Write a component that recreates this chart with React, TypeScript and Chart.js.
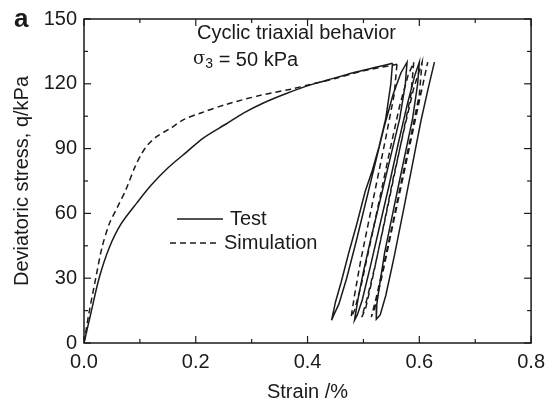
import React, { useEffect, useRef } from "react";
import { Chart, registerables } from "chart.js";

Chart.register(...registerables);

// ---- Data (strain in %, deviatoric stress q in kPa) ----
const testMonoStrain = [0, 0.0125, 0.027, 0.045, 0.066, 0.095, 0.12, 0.15, 0.184, 0.214, 0.255, 0.286, 0.32, 0.362, 0.405, 0.446, 0.48, 0.52, 0.552];
const testMonoStress = [0, 14, 30, 44, 55, 65, 73, 81, 88.5, 95, 101.5, 106.5, 111, 115.5, 119.5, 122.5, 125, 127.5, 129.5];

const testLoopStrain = [
  0.552, 0.549, 0.540, 0.528, 0.516, 0.503, 0.488, 0.474, 0.460, 0.450, 0.443,
  0.447, 0.456, 0.470, 0.487, 0.503, 0.520, 0.537, 0.553, 0.567, 0.578,
  0.575, 0.565, 0.552, 0.540, 0.527, 0.513, 0.500, 0.490, 0.484,
  0.489, 0.498, 0.512, 0.528, 0.545, 0.562, 0.578, 0.592, 0.600,
  0.597, 0.588, 0.575, 0.562, 0.550, 0.538, 0.529, 0.524, 0.523,
  0.530, 0.540, 0.555, 0.572, 0.588, 0.603, 0.616, 0.627,
];
const testLoopStress = [
  129.5, 120, 104, 91, 80, 70, 55, 42, 28, 19, 10.5,
  13, 18, 30, 47, 64, 82, 100, 115, 125, 130,
  120, 104, 90, 77, 63, 48, 33, 20, 10.5,
  13, 20, 35, 53, 72, 92, 110, 124, 130,
  120, 104, 88, 72, 57, 42, 27, 18, 11,
  13, 22, 40, 62, 83, 103, 118, 130,
];

const simMonoStrain = [0, 0.009, 0.021, 0.032, 0.045, 0.06, 0.075, 0.092, 0.104, 0.115, 0.13, 0.155, 0.179, 0.209, 0.255, 0.316, 0.37, 0.405, 0.45, 0.5, 0.56];
const simMonoStress = [0, 14, 30, 44, 55, 63, 71, 82, 88, 92, 95.5, 99.5, 103.5, 106.5, 110.5, 114.7, 117.5, 119.7, 122.5, 126, 129];

const simLoopStrain = [
  0.56, 0.555, 0.540, 0.525, 0.510, 0.495, 0.484, 0.478,
  0.484, 0.497, 0.512, 0.530, 0.548, 0.565, 0.580, 0.590,
  0.585, 0.570, 0.553, 0.537, 0.521, 0.506, 0.497,
  0.504, 0.518, 0.535, 0.553, 0.572, 0.590, 0.605,
  0.600, 0.585, 0.568, 0.552, 0.536, 0.522, 0.514,
  0.520, 0.535, 0.553, 0.572, 0.590, 0.605, 0.615,
];
const simLoopStress = [
  129, 115, 95, 76, 57, 38, 22, 12,
  15, 28, 46, 68, 90, 110, 124, 130,
  115, 96, 75, 55, 36, 20, 12,
  16, 32, 53, 76, 98, 118, 130,
  115, 96, 75, 55, 36, 20, 12,
  16, 33, 55, 78, 100, 118, 130,
];

const xTicks = [0, 0.2, 0.4, 0.6, 0.8];
const yTicks = [0, 30, 60, 90, 120, 150];

const FONT = "'Liberation Sans', Arial, sans-serif";
const INK = "#1a1a1a";

function pts(xs: number[], ys: number[]) {
  return xs.map((x, i) => ({ x, y: ys[i] }));
}

const decor = {
  id: "decor",
  afterDraw(chart: any) {
    const { ctx, chartArea: a, scales } = chart;
    const x = scales.x;
    const y = scales.y;
    ctx.save();
    ctx.strokeStyle = INK;
    ctx.lineWidth = 1.5;
    ctx.strokeRect(a.left, a.top, a.right - a.left, a.bottom - a.top);
    const line = (x1: number, y1: number, x2: number, y2: number) => {
      ctx.beginPath();
      ctx.moveTo(x1, y1);
      ctx.lineTo(x2, y2);
      ctx.stroke();
    };
    ctx.lineWidth = 1.2;
    for (let i = 0; i <= 8; i++) {
      const v = i / 10;
      const px = x.getPixelForValue(v);
      const major = xTicks.some((t) => Math.abs(t - v) < 1e-9);
      const len = major ? 7 : 4;
      line(px, a.bottom, px, a.bottom - len);
      line(px, a.top, px, a.top + len);
    }
    for (let v = 0; v <= 150; v += 15) {
      const py = y.getPixelForValue(v);
      const major = yTicks.includes(v);
      const len = major ? 7 : 4;
      line(a.left, py, a.left + len, py);
      line(a.right, py, a.right - len, py);
    }

    ctx.fillStyle = INK;
    ctx.textBaseline = "middle";
    ctx.font = `bold 26px ${FONT}`;
    ctx.textAlign = "left";
    ctx.fillText("a", 14, 20);

    ctx.font = `20px ${FONT}`;
    ctx.textAlign = "center";
    ctx.fillText("Strain /%", (a.left + a.right) / 2, 392);
    ctx.save();
    ctx.translate(22, (a.top + a.bottom) / 2);
    ctx.rotate(-Math.PI / 2);
    ctx.fillText("Deviatoric stress, q/kPa", 0, 0);
    ctx.restore();

    ctx.textAlign = "left";
    ctx.font = `20px ${FONT}`;
    ctx.fillText("Cyclic triaxial behavior", 197, 33);
    let cx = 193;
    ctx.font = `18px 'DejaVu Serif', serif`;
    ctx.fillText("σ", cx, 59);
    cx += ctx.measureText("σ").width;
    ctx.font = `14px ${FONT}`;
    ctx.fillText("3", cx, 64);
    cx += ctx.measureText("3").width;
    ctx.font = `20px ${FONT}`;
    ctx.fillText(" = 50 kPa", cx, 60);

    ctx.lineWidth = 1.5;
    ctx.setLineDash([]);
    line(177, 219, 223, 219);
    ctx.setLineDash([6, 4]);
    line(170, 243, 218, 243);
    ctx.setLineDash([]);
    ctx.fillText("Test", 230, 219);
    ctx.fillText("Simulation", 224, 243);
    ctx.restore();
  },
};

export default function App() {
  const ref = useRef<HTMLCanvasElement | null>(null);
  useEffect(() => {
    if (!ref.current) return;
    const solid = { borderColor: INK, borderWidth: 1.5, pointRadius: 0, tension: 0, fill: false, showLine: true };
    const dashed = { ...solid, borderDash: [6, 4] };
    const chart = new Chart(ref.current, {
      type: "line",
      data: {
        datasets: [
          { label: "Test", data: pts(testMonoStrain, testMonoStress), ...solid, tension: 0.3 },
          { label: "Test loops", data: pts(testLoopStrain, testLoopStress), ...solid },
          { label: "Simulation", data: pts(simMonoStrain, simMonoStress), ...dashed, tension: 0.3 },
          { label: "Simulation loops", data: pts(simLoopStrain, simLoopStress), ...dashed },
        ] as any,
      },
      options: {
        animation: false,
        responsive: false,
        parsing: false as any,
        layout: { padding: { top: 16, right: 20, left: 0, bottom: 0 } },
        plugins: { legend: { display: false }, tooltip: { enabled: false } },
        scales: {
          x: {
            type: "linear",
            min: 0,
            max: 0.8,
            grid: { display: false, drawTicks: false },
            border: { display: false },
            ticks: {
              stepSize: 0.2,
              padding: 7,
              color: INK,
              font: { size: 20, family: FONT },
              callback: (v: any) => Number(v).toFixed(1),
            },
            afterFit: (s: any) => {
              s.height = 62;
            },
          },
          y: {
            type: "linear",
            min: 0,
            max: 150,
            grid: { display: false, drawTicks: false },
            border: { display: false },
            ticks: {
              stepSize: 30,
              padding: 7,
              color: INK,
              font: { size: 20, family: FONT },
            },
            afterFit: (s: any) => {
              s.width = 84;
            },
          },
        },
      } as any,
      plugins: [decor],
    });
    return () => chart.destroy();
  }, []);
  return (
    <div style={{ position: "fixed", left: 0, top: 0, width: 552, height: 405, background: "#fff" }}>
      <canvas ref={ref} width={552} height={405} style={{ display: "block" }} />
    </div>
  );
}
